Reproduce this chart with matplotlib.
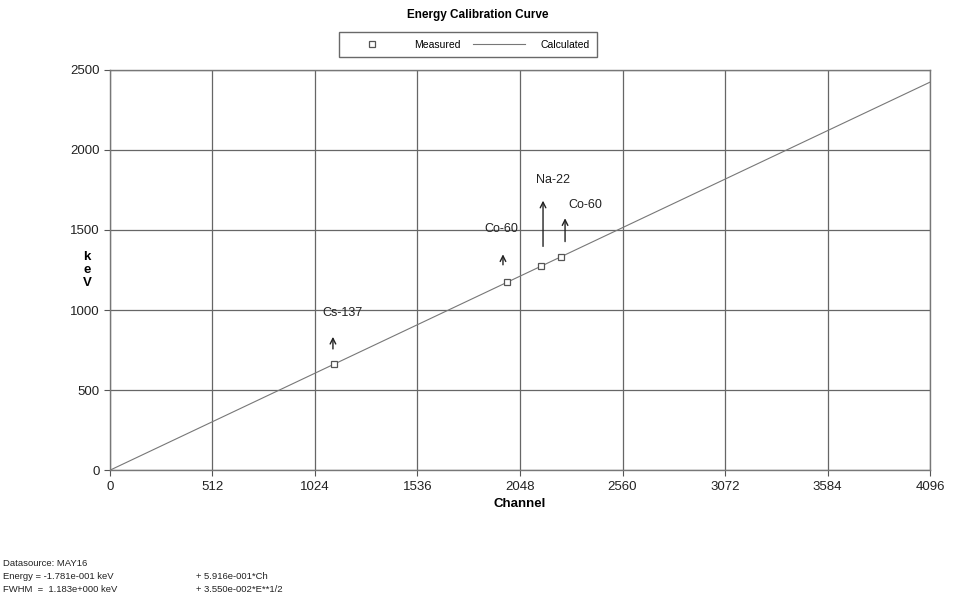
import matplotlib
matplotlib.use("Agg")
import matplotlib.pyplot as plt

plt.rcParams['font.family'] = ['Liberation Sans', 'DejaVu Sans']

# measured peaks (channel, keV)
meas_ch = [1119, 1983, 2155, 2252]
meas_kev = [662, 1173, 1275, 1332]

# calculated calibration line end points
calc_ch = [0, 4096]
calc_kev = [-0.178, 2423.0]

x_ticks = [0, 512, 1024, 1536, 2048, 2560, 3072, 3584, 4096]
y_ticks = [0, 500, 1000, 1500, 2000, 2500]

# handwritten notes: label, text position, arrow start, arrow end
notes = [
    ("Cs-137", (1060, 960), (1114, 740), (1114, 850)),
    ("Co-60", (1870, 1490), (1963, 1265), (1963, 1365)),
    ("Na-22", (2130, 1795), (2163, 1380), (2163, 1700)),
    ("Co-60", (2290, 1640), (2273, 1410), (2273, 1590)),
]

footer = [
    "Datasource: MAY16",
    "Energy = -1.781e-001 keV",
    "FWHM  =  1.183e+000 keV",
]
footer2 = ["", "+ 5.916e-001*Ch", "+ 3.550e-002*E**1/2"]

fig = plt.figure(figsize=(9.55, 5.96), dpi=100)
ax = fig.add_axes([0.115, 0.211, 0.859, 0.672])

ax.plot(calc_ch, calc_kev, color="#777777", lw=0.8, label="Calculated", zorder=2)
ax.plot(meas_ch, meas_kev, ls="none", marker="s", ms=5, mfc="white",
        mec="#555555", mew=0.9, label="Measured", zorder=3)

ax.set_xlim(0, 4096)
ax.set_ylim(0, 2500)
ax.set_xticks(x_ticks)
ax.set_yticks(y_ticks)
ax.tick_params(labelsize=9.5, length=4, color="#555555", colors="#222222")
ax.grid(True, color="#666666", lw=0.9)
for s in ax.spines.values():
    s.set_color("#777777")
    s.set_linewidth(1.0)

ax.set_xlabel("Channel", fontsize=9.5, fontweight="bold")
ax.set_ylabel("k\ne\nV", fontsize=9.5, fontweight="bold", rotation=0,
              va="center", ha="center", linespacing=1.1)
ax.yaxis.set_label_coords(-0.028, 0.5)

for lab, tpos, a0, a1 in notes:
    ax.text(tpos[0], tpos[1], lab, fontsize=9, color="#222222")
    ax.annotate("", xy=a1, xytext=a0,
                arrowprops=dict(arrowstyle="->", color="#222222", lw=1.0))

fig.text(0.5, 0.975, "Energy Calibration Curve", ha="center", va="center",
         fontsize=8.5, fontweight="bold")
leg = fig.legend(handles=ax.get_lines()[::-1], loc="center",
                 bbox_to_anchor=(0.49, 0.925), ncol=2, fontsize=7.5,
                 frameon=True, fancybox=False, edgecolor="#444444",
                 handlelength=5, columnspacing=1.2, borderpad=0.7,
                 handletextpad=1.5)

for i, t in enumerate(footer):
    fig.text(0.003, 0.055 - i * 0.022, t, fontsize=6.8, color="#222222", va="center")
for i, t in enumerate(footer2):
    fig.text(0.205, 0.055 - i * 0.022, t, fontsize=6.8, color="#222222", va="center")

fig.savefig("out.png", dpi=100)
